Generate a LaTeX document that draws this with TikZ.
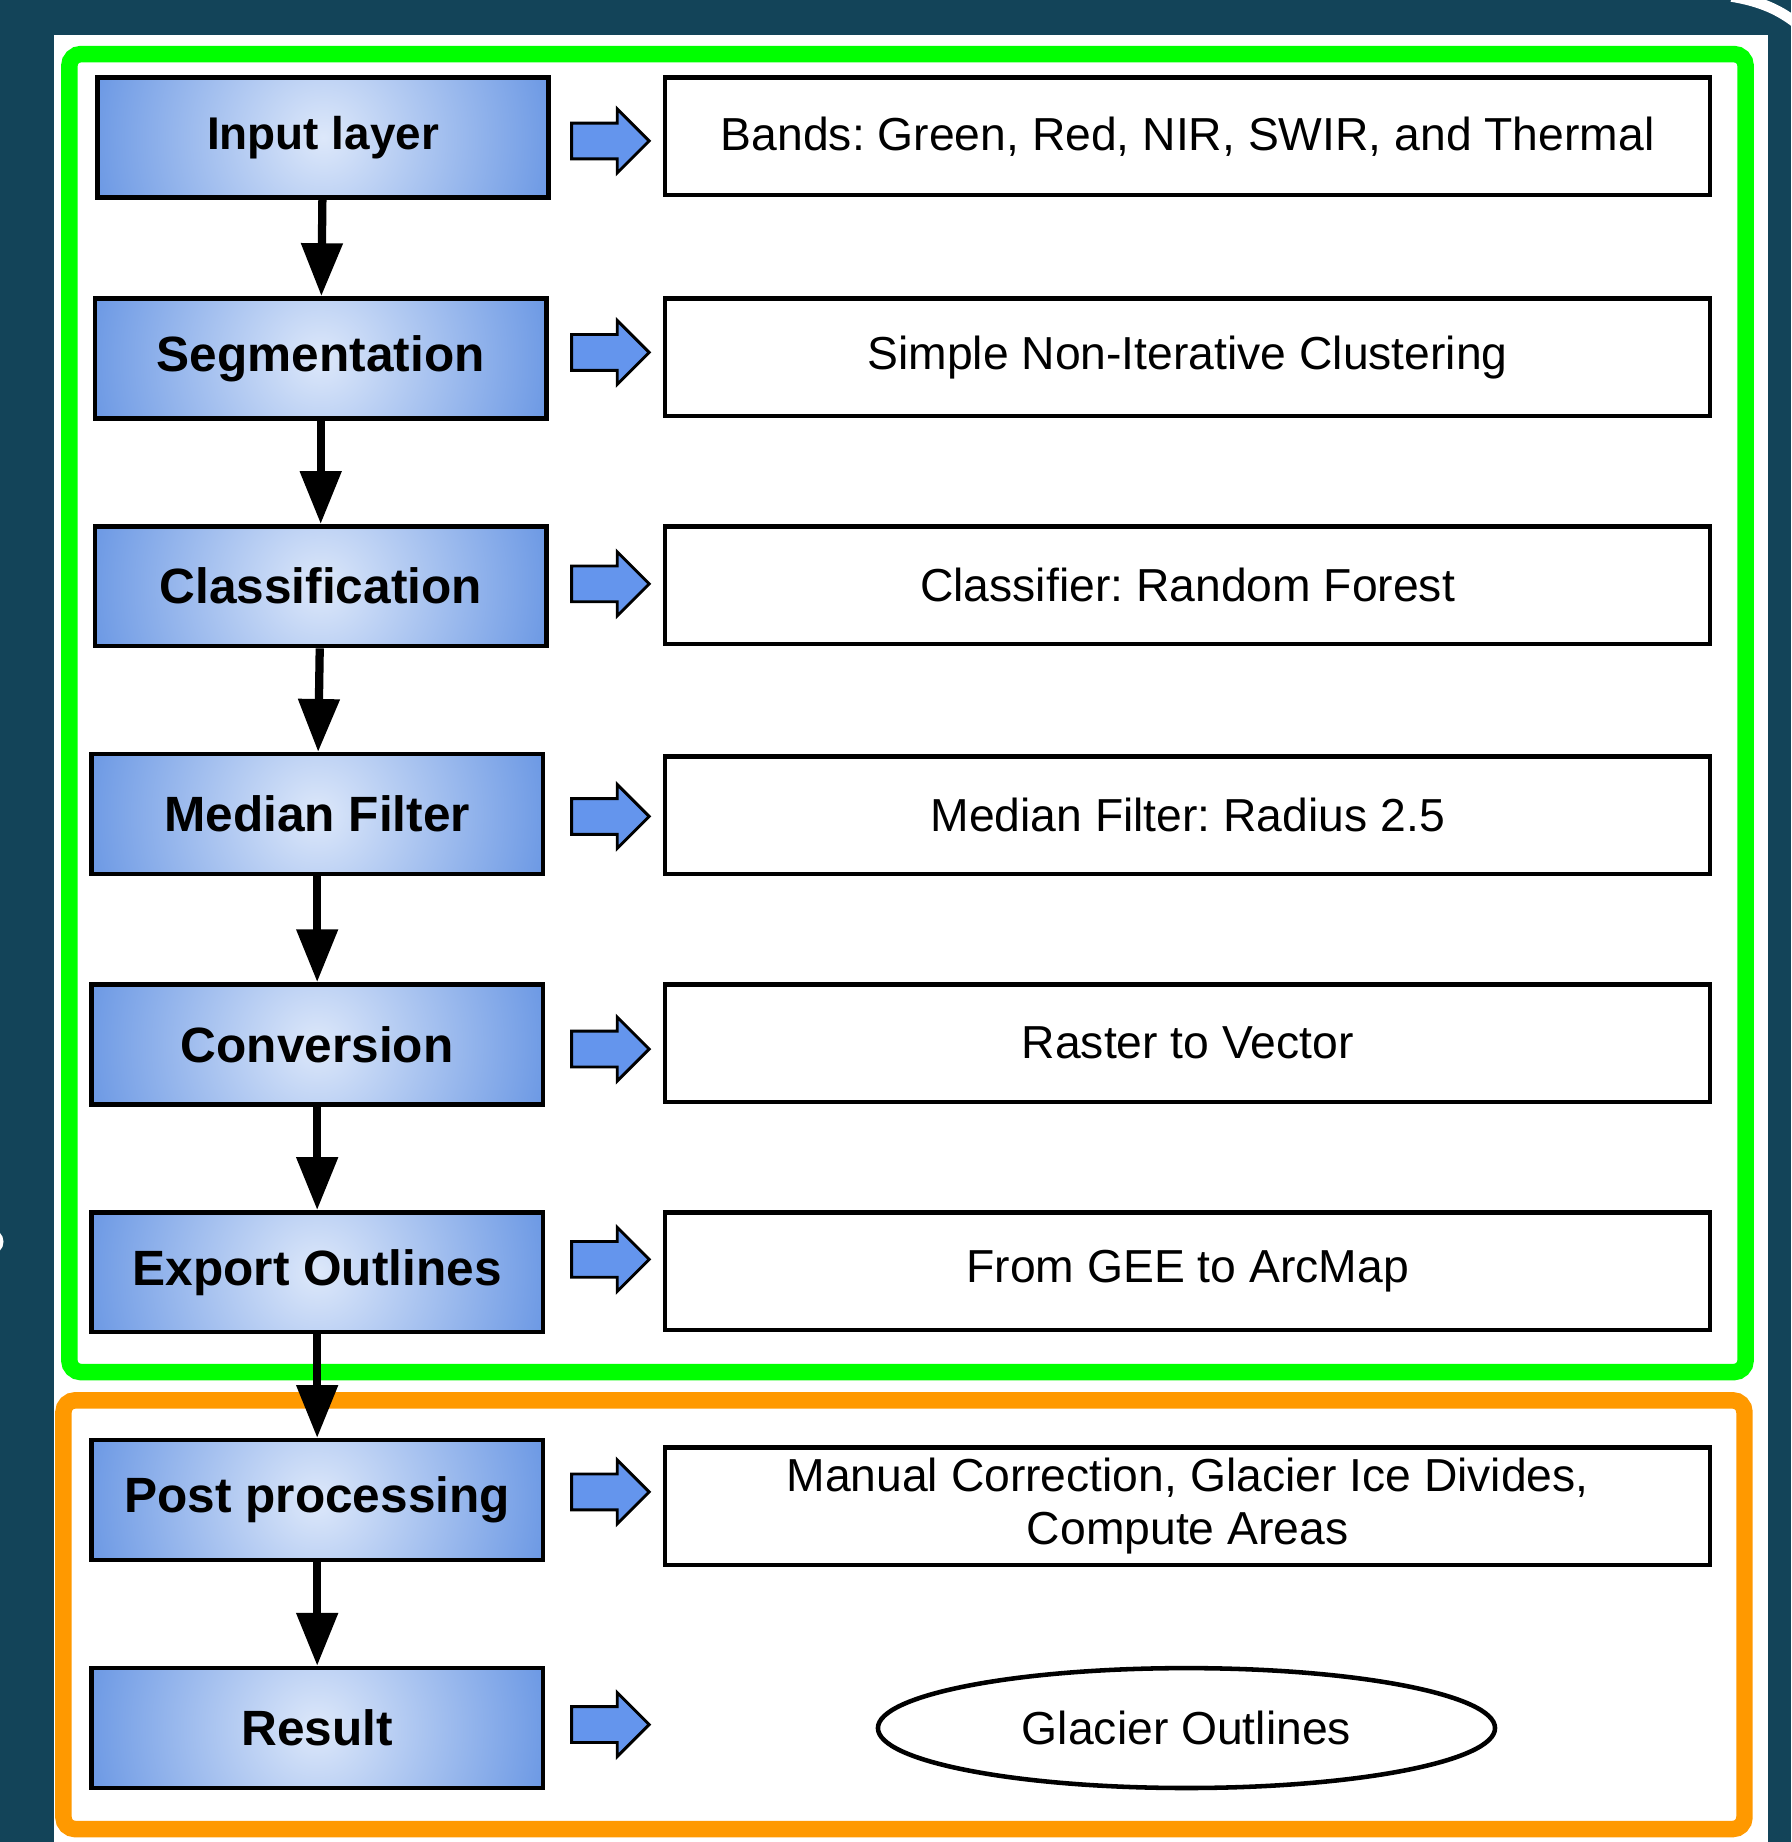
\documentclass[tikz,border=0pt]{standalone}
\usepackage{fontspec}
\setmainfont{Liberation Sans}
\frenchspacing
\usetikzlibrary{arrows.meta,shapes.geometric,shapes.arrows}

\definecolor{bgteal}{HTML}{134459}
\definecolor{framegreen}{HTML}{00FF00}
\definecolor{frameorange}{HTML}{FF9900}
\definecolor{boxlight}{HTML}{DDE8FA}
\definecolor{boxdark}{HTML}{6B98E4}
\definecolor{arrowblue}{HTML}{6495ED}

\tikzset{
  stage/.style={draw=black, line width=1.1pt, fill=boxdark,
    path picture={\shade [inner color=boxlight, outer color=boxdark]
      (path picture bounding box.center) circle (2cm);},
    minimum width=3.84cm, minimum height=1.02cm, inner sep=0pt,
    font=\fontsize{12}{14}\selectfont\bfseries},
  detail/.style={draw=black, line width=1.1pt, fill=white, minimum width=8.89cm,
    minimum height=1.0cm, inner sep=0pt, align=center,
    font=\fontsize{11.2}{13}\selectfont},
  outcome/.style={ellipse, draw=black, line width=1.1pt, fill=white, minimum width=5.25cm,
    minimum height=1.02cm, inner sep=0pt, font=\fontsize{11.2}{13}\selectfont},
  flow/.style={line width=2pt, -{Triangle[length=0.45cm,width=0.34cm]}},
  blockarrow/.style={single arrow, draw=black, line width=0.7pt, fill=arrowblue,
    minimum height=0.66cm, inner xsep=0pt, inner ysep=0.14cm,
    single arrow head extend=0.12cm, single arrow head indent=0pt}
}

\begin{document}
\begin{tikzpicture}[x=0.01cm, y=-0.01cm]
  \clip (0,0) rectangle (1525,1568);
  % background and frames
  \fill [bgteal] (0,0) rectangle (1525,1568);
  \fill [white] (46,30) rectangle (1505,1568);
  \draw [white, line width=0.09cm] (1474,-3) .. controls (1498,1) and (1515,8) .. (1532,22);
  \fill [white] (-8,1057) circle (11);
  \draw [framegreen, line width=0.14cm, rounded corners=0.1cm] (59,46) rectangle (1486,1168);
  \draw [frameorange, line width=0.14cm, rounded corners=0.1cm] (54,1192) rectangle (1485,1557);

  % left column
  \node [stage, font=\fontsize{11.1}{13}\selectfont\bfseries] (input) at (275,117) {Input layer};
  \node [stage] (segm) at (273,305) {Segmentation};
  \node [stage] (class) at (273,499) {Classification};
  \node [stage] (median) at (270,693) {Median Filter};
  \node [stage] (conv) at (270,889) {Conversion};
  \node [stage] (export) at (270,1083) {Export Outlines};
  \node [stage] (post) at (270,1277) {Post processing};
  \node [stage] (result) at (270,1471) {Result};

  % right column
  \node [detail] (bands) at (1011,116) {Bands: Green, Red, NIR, SWIR, and Thermal};
  \node [detail] (snic) at (1011,304) {Simple Non-Iterative Clustering};
  \node [detail] (rf) at (1011,498) {Classifier: Random Forest};
  \node [detail] (radius) at (1011,694) {Median Filter: Radius 2.5};
  \node [detail] (vector) at (1011,888) {Raster to Vector};
  \node [detail] (arcmap) at (1011,1082) {From GEE to ArcMap};
  \node [detail] (manual) at (1011,1282) {Manual Correction, Glacier Ice Divides,\\Compute Areas};
  \node [outcome] (outlines) at (1010,1471) {Glacier Outlines};

  % block arrows
  \node [blockarrow] (b1) at (512,120) {};
  \node [blockarrow] (b2) at (512,300) {};
  \node [blockarrow] (b3) at (512,497) {};
  \node [blockarrow] (b4) at (512,695) {};
  \node [blockarrow] (b5) at (512,893) {};
  \node [blockarrow] (b6) at (512,1072) {};
  \node [blockarrow] (b7) at (512,1270) {};
  \node [blockarrow] (b8) at (512,1468) {};

  % flow
  \draw [flow] (input) -- (segm);
  \draw [flow] (segm) -- (class);
  \draw [flow] (class) -- (median);
  \draw [flow] (median) -- (conv);
  \draw [flow] (conv) -- (export);
  \draw [flow] (export) -- (post);
  \draw [flow] (post) -- (result);
\end{tikzpicture}
\end{document}
